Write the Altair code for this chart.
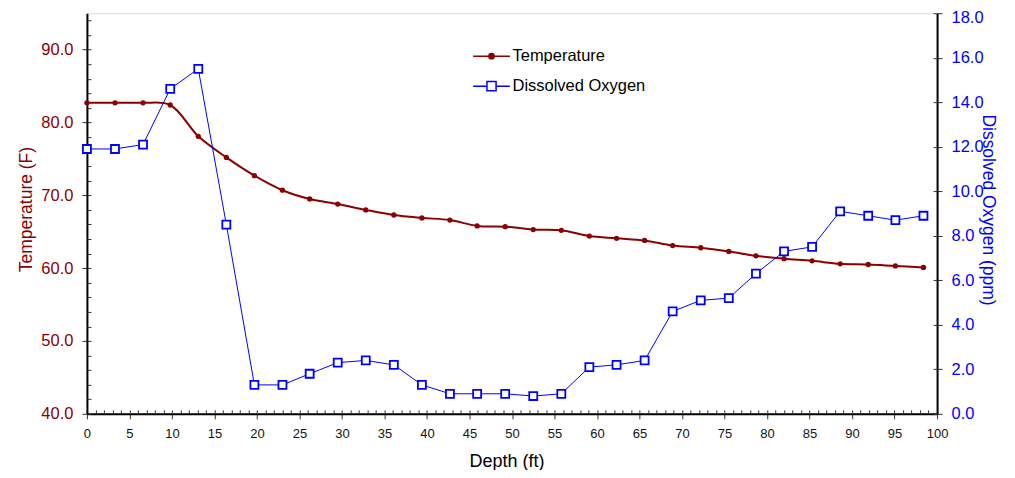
import altair as alt
import pandas as pd

# ---- data ----
depth_ft = [0.0, 3.3, 6.6, 9.8, 13.1, 16.4, 19.7, 23.0, 26.2, 29.5, 32.8, 36.1, 39.4,
            42.7, 45.9, 49.2, 52.5, 55.8, 59.1, 62.3, 65.6, 68.9, 72.2, 75.5, 78.7,
            82.0, 85.3, 88.6, 91.9, 95.1, 98.4]
temperature_f = [82.7, 82.7, 82.7, 82.4, 78.1, 75.2, 72.7, 70.7, 69.5, 68.8, 68.0, 67.3,
                 66.9, 66.6, 65.8, 65.7, 65.3, 65.2, 64.4, 64.1, 63.8, 63.1, 62.8, 62.3,
                 61.7, 61.3, 61.0, 60.6, 60.5, 60.3, 60.1]
dissolved_oxygen_ppm = [11.9, 11.9, 12.1, 14.6, 15.5, 8.5, 1.3, 1.3, 1.8, 2.3, 2.4, 2.2,
                        1.3, 0.9, 0.9, 0.9, 0.8, 0.9, 2.1, 2.2, 2.4, 4.6, 5.1, 5.2, 6.3,
                        7.3, 7.5, 9.1, 8.9, 8.7, 8.9]
series_names = ["Temperature", "Dissolved Oxygen"]

# tick values
x_major_ticks = list(range(0, 101, 5))
x_minor_ticks = list(range(0, 101, 1))
temp_major_ticks = [40, 50, 60, 70, 80, 90]
temp_minor_ticks = list(range(40, 95, 2))
do_ticks = list(range(0, 19, 2))

W, H = 851, 401
RED = "#8B0000"
BLUE = "#0000FF"
TICK = "#333333"
FONT = "Liberation Sans"

df = pd.DataFrame({"depth": depth_ft, "temp": temperature_f, "do": dissolved_oxygen_ppm})
legend_df = pd.DataFrame({"series": series_names})

x_scale = alt.Scale(domain=[0, 100], nice=False, zero=False)
t_scale = alt.Scale(domain=[40, 95], nice=False, zero=False)
o_scale = alt.Scale(domain=[0, 18], nice=False, zero=False)

x_main = alt.X("depth:Q", scale=x_scale, axis=alt.Axis(
    orient="bottom", values=x_major_ticks, tickSize=5, tickColor=TICK,
    labelPadding=9, labelFontSize=13, labelColor="#111111", labelFlush=False,
    labelOverlap=False, domainWidth=2, domainColor="black", grid=False,
    title="Depth (ft)", titleFontSize=18, titleFontWeight="normal", titleColor="black",
    titleX=420, titleY=53, titleBaseline="alphabetic"))
x_inner = alt.X("depth:Q", scale=x_scale, axis=alt.Axis(
    orient="top", offset=-H, values=x_minor_ticks, tickSize=4, tickColor=TICK,
    labels=False, domain=False, grid=False, title=None))
x_none = alt.X("depth:Q", scale=x_scale, axis=None)

y_temp_main = alt.Y("temp:Q", scale=t_scale, axis=alt.Axis(
    orient="left", values=temp_major_ticks, format=".1f", tickSize=5, tickColor=TICK,
    labelPadding=9, labelFontSize=16.5, labelColor=RED, labelFlush=False,
    domainWidth=2, domainColor="black", grid=False,
    title="Temperature (F)", titleColor=RED, titleFontSize=17.5, titleFontWeight="normal",
    titleX=-55, titleY=196, titleBaseline="alphabetic"))
y_temp_inner = alt.Y("temp:Q", scale=t_scale, axis=alt.Axis(
    orient="right", offset=-W, values=temp_minor_ticks, tickSize=4, tickColor=TICK,
    labels=False, domain=False, grid=False, title=None))

y_do_main = alt.Y("do:Q", scale=o_scale, axis=alt.Axis(
    orient="right", values=do_ticks, format=".1f", tickSize=5, tickColor=TICK,
    labelPadding=9, labelFontSize=16.5, labelColor=BLUE, labelFlush=False,
    labelOffset={"condition": {"test": "datum.value >= 18", "value": 4}, "value": 0},
    domainWidth=2, domainColor="black", grid=False,
    title="Dissolved Oxygen (ppm)", titleColor=BLUE, titleFontSize=17.5,
    titleFontWeight="normal", titleX=45, titleY=196.5, titleBaseline="alphabetic"))
y_do_inner = alt.Y("do:Q", scale=o_scale, axis=alt.Axis(
    orient="left", offset=-W, values=do_ticks, tickSize=4, tickColor=TICK,
    labels=False, domain=False, grid=False, title=None))

base = alt.Chart(df)

temp_line = base.mark_line(interpolate="catmull-rom", color=RED, strokeWidth=2).encode(
    x=x_main, y=y_temp_main)
temp_pts = base.mark_point(shape="circle", filled=True, color=RED, size=28, opacity=1).encode(
    x=x_inner, y=y_temp_inner)
do_line = base.mark_line(color=BLUE, strokeWidth=1).encode(x=x_none, y=y_do_main)
do_pts = base.mark_point(shape="square", filled=False, fill="white", stroke=BLUE,
                         strokeWidth=1.8, size=64, opacity=1).encode(x=x_none, y=y_do_inner)

# legend symbols: line + marker drawn as custom symbol paths
temp_sym = "M-1.53,0L1.53,0M-0.22,0A0.22,0.22 0 1,0 0.22,0A0.22,0.22 0 1,0 -0.22,0Z"
do_sym = ("M-1.53,0L-0.38,0M0.38,0L1.53,0"
          "M-0.38,-0.38L0.38,-0.38L0.38,0.38L-0.38,0.38Z")

leg = alt.Legend(orient="none", legendX=392, legendY=30, direction="vertical", title=None,
                 symbolSize=576, symbolStrokeWidth=1.5, symbolOpacity=1,
                 labelFontSize=16.5, labelFont=FONT, labelColor="black",
                 labelOffset=8, rowPadding=8, padding=0, symbolOffset=0)

legend_layer = alt.Chart(legend_df).mark_point(size=576, opacity=0).encode(
    shape=alt.Shape("series:N", scale=alt.Scale(domain=series_names, range=[temp_sym, do_sym]), legend=leg),
    stroke=alt.Stroke("series:N", scale=alt.Scale(domain=series_names, range=[RED, BLUE]), legend=leg),
    fill=alt.Fill("series:N", scale=alt.Scale(domain=series_names, range=[RED, "#FFFFFF"]), legend=leg),
)

chart = alt.layer(temp_line, temp_pts, do_line, do_pts, legend_layer).resolve_scale(
    y="independent"
).resolve_axis(
    x="independent", y="independent"
).properties(
    width=W, height=H,
    padding={"left": 79, "top": 5, "right": 70, "bottom": 56},
    autosize=alt.AutoSizeParams(type="none"),
    background="white",
).configure_view(
    stroke="black", strokeWidth=1
).configure(
    font=FONT
).configure_axis(
    labelFont=FONT, titleFont=FONT
)

chart.save("out.html", embed_options={"renderer": "svg", "actions": False})
